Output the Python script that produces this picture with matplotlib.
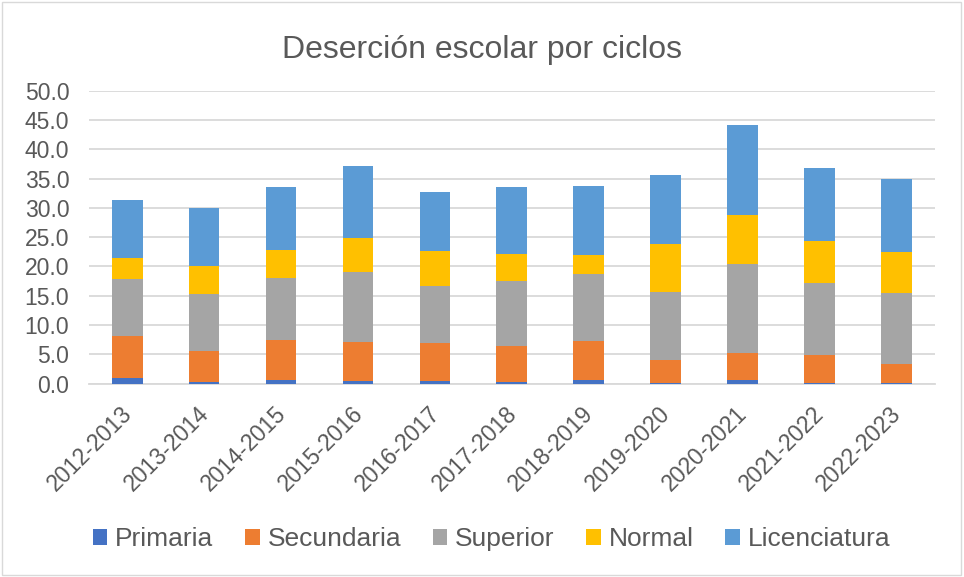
import numpy as np
import matplotlib.pyplot as plt
from matplotlib.patches import Rectangle
from matplotlib.transforms import ScaledTranslation

ciclos = ['2012-2013', '2013-2014', '2014-2015', '2015-2016', '2016-2017', '2017-2018',
          '2018-2019', '2019-2020', '2020-2021', '2021-2022', '2022-2023']
primaria = [0.9, 0.3, 0.6, 0.5, 0.5, 0.3, 0.6, 0.1, 0.7, 0.2, 0.2]
secundaria = [7.3, 5.3, 6.8, 6.6, 6.5, 6.2, 6.7, 3.9, 4.6, 4.7, 3.2]
superior = [9.6, 9.7, 10.7, 12.0, 9.7, 11.1, 11.4, 11.7, 15.2, 12.2, 12.1]
normal = [3.7, 4.8, 4.7, 5.8, 6.0, 4.6, 3.3, 8.1, 8.3, 7.2, 7.0]
licenciatura = [9.9, 9.9, 10.8, 12.3, 10.0, 11.3, 11.7, 11.8, 15.4, 12.5, 12.4]

series = [('Primaria', primaria, '#4472C4'),
          ('Secundaria', secundaria, '#ED7D31'),
          ('Superior', superior, '#A5A5A5'),
          ('Normal', normal, '#FFC000'),
          ('Licenciatura', licenciatura, '#5B9BD5')]

plt.rcParams['font.family'] = ['Liberation Sans', 'DejaVu Sans']
txt = '#595959'

fig = plt.figure(figsize=(9.64, 5.77), dpi=100)
ax = fig.add_axes([0.092, 0.335, 0.878, 0.508])

x = np.arange(len(ciclos))
bottom = np.zeros(len(ciclos))
for name, vals, color in series:
    ax.bar(x, vals, 0.4, bottom=bottom, color=color, label=name, zorder=3)
    bottom += np.array(vals)

ax.set_xlim(-0.5, len(ciclos) - 0.5)
ax.set_ylim(0, 50)
ax.set_yticks(np.arange(0, 50.1, 5))
ax.set_yticklabels(['%.1f' % v for v in np.arange(0, 50.1, 5)])
ax.set_xticks(x)
ax.set_xticklabels(ciclos, rotation=45, ha='right', rotation_mode='anchor')
ax.tick_params(axis='both', length=0, labelsize=16.5, colors=txt)
ax.tick_params(axis='y', pad=14)
ax.tick_params(axis='x', pad=13)
# shift rotated labels a little to the left, like the Excel layout
off = ScaledTranslation(-5 / 72, 0, fig.dpi_scale_trans)
for lab in ax.get_xticklabels():
    lab.set_transform(lab.get_transform() + off)
ax.grid(axis='y', color='#D9D9D9', linewidth=1.3, zorder=0)
for s in ['top', 'right', 'left']:
    ax.spines[s].set_visible(False)
ax.spines['bottom'].set_color('#D9D9D9')
ax.spines['bottom'].set_linewidth(1.3)

fig.text(0.5, 0.913, 'Deserción escolar por ciclos', ha='center', va='center',
         fontsize=23, color=txt)

fig.legend(loc='center', ncol=5, bbox_to_anchor=(0.51, 0.066), frameon=False,
           fontsize=19, labelcolor=txt, handlelength=0.55, handleheight=0.55,
           handletextpad=0.3, columnspacing=1.2)

fig.patches.append(Rectangle((0.002, 0.003), 0.995, 0.994, transform=fig.transFigure,
                             fill=False, edgecolor='#D9D9D9', linewidth=1))

fig.savefig('out.png', dpi=100)
